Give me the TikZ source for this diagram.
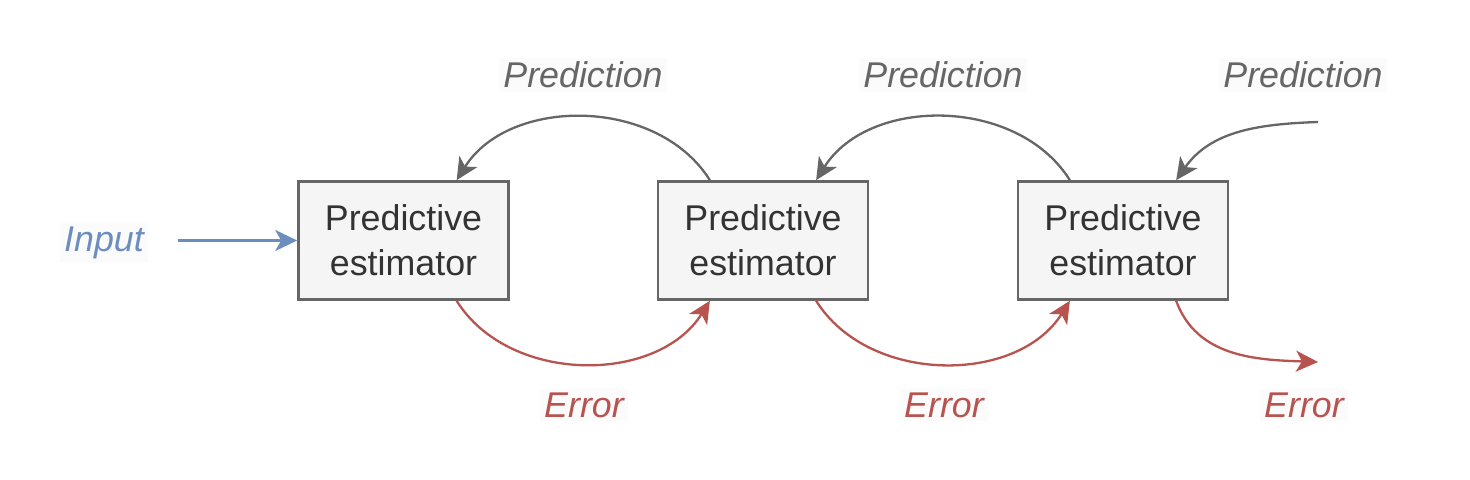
\documentclass[tikz,border=0pt]{standalone}
\usepackage{fontspec}
\setmainfont{Liberation Sans}
\usetikzlibrary{positioning,calc,arrows.meta}
\definecolor{boxfill}{HTML}{F5F5F5}
\definecolor{boxline}{HTML}{666666}
\definecolor{predcol}{HTML}{666666}
\definecolor{errcol}{HTML}{B85450}
\definecolor{incol}{HTML}{6C8EBF}
\definecolor{labelbg}{HTML}{FBFBFB}
\tikzset{font=\fontsize{17.9}{22.5}\selectfont}

\begin{document}
\begin{tikzpicture}[x=0.5pt, y=0.5pt,
	estimator/.style={draw=boxline, fill=boxfill, line width=1.3pt, text=black!80,
		minimum width=105pt, minimum height=59pt, align=center, inner sep=2pt},
	lbl/.style={fill=labelbg, inner sep=2pt, font=\fontsize{17.9}{22.5}\selectfont\itshape},
	conn/.style={line width=1.15pt, -{Stealth[length=11pt, width=10.5pt, inset=3pt]}}]
	\useasboundingbox (0,0) rectangle (1470,480);

	\node[estimator] (est1) at (403.5, 239.5) {Predictive\\estimator};
	\node[estimator] (est2) at (763, 239.5) {Predictive\\estimator};
	\node[estimator] (est3) at (1123, 239.5) {Predictive\\estimator};

	\node[lbl, text=incol] (input) at (104, 237) {Input};
	\node[lbl, text=predcol] (pred1) at (583, 405) {Prediction};
	\node[lbl, text=predcol] (pred2) at (943, 405) {Prediction};
	\node[lbl, text=predcol] (pred3) at (1303, 405) {Prediction};
	\node[lbl, text=errcol] (err1) at (584, 75) {Error};
	\node[lbl, text=errcol] (err2) at (944, 75) {Error};
	\node[lbl, text=errcol] (err3) at (1304, 75) {Error};

	\coordinate (predin) at (1318, 358);
	\coordinate (errout) at (1318, 118);

	% input
	\draw[conn, incol, shorten <=15pt] (input.east |- est1.west) -- (est1.west);

	% predictions going down
	\draw[conn, predcol] ($(est2.north west)!0.25!(est2.north east)$) to[out=122, in=58] ($(est1.north west)!0.75!(est1.north east)$);
	\draw[conn, predcol] ($(est3.north west)!0.25!(est3.north east)$) to[out=122, in=58] ($(est2.north west)!0.75!(est2.north east)$);
	\draw[conn, predcol] (predin) to[out=182, in=55] ($(est3.north west)!0.75!(est3.north east)$);

	% errors going up
	\draw[conn, errcol] ($(est1.south west)!0.75!(est1.south east)$) to[out=-58, in=-122] ($(est2.south west)!0.25!(est2.south east)$);
	\draw[conn, errcol] ($(est2.south west)!0.75!(est2.south east)$) to[out=-58, in=-122] ($(est3.south west)!0.25!(est3.south east)$);
	\draw[conn, errcol] ($(est3.south west)!0.75!(est3.south east)$) to[out=-70, in=178] (errout);
\end{tikzpicture}
\end{document}
